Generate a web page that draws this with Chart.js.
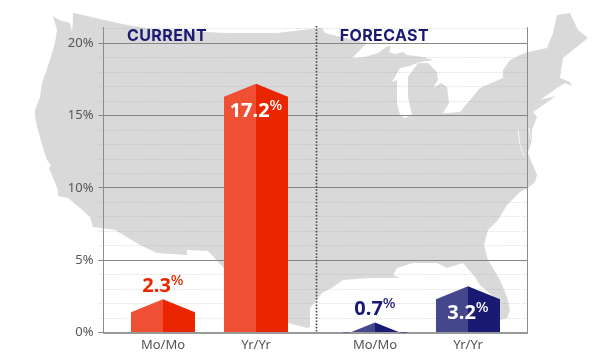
<!DOCTYPE html>
<html>
<head>
<meta charset="utf-8">
<style>
  html, body { margin: 0; padding: 0; background: #fff; }
  #wrap { position: relative; width: 610px; height: 361px; overflow: hidden; }
  #map, #chart { position: absolute; left: 0; top: 0; }
</style>
<script src="https://cdn.jsdelivr.net/npm/chart.js@4"></script>
</head>
<body>
<div id="wrap">
  <svg id="map" width="610" height="361" viewBox="0 0 610 361">
    <path fill="#d9d9d9" d="M73 12.7 L100 19 L127 25 L160 30 L227 33 L277 33 L320 28 L322 28 L325 33 L337 36 L367 43 L363 47 L352 58 L365 57 L378 53 L386 47 L391 46 L389 52 L395 54 L403 52 L407 55 L423 57 L433 60 L420 62 L410 66 L400 68 L392 82 L397 80 L397 103 L400 115 L405 118 L412 115 L408 97 L408 77 L418 63 L428 63 L437 72 L438 80 L433 88 L441 83 L447 87 L449 103 L443 113 L447 113 L460 112 L480 88 L503 78 L503 70 L510 60 L520 55 L528 52 L547 48 L553 33 L557 15 L570 13 L578 30 L588 38 L573 50 L563 58 L560 78 L570 82 L572 86 L565 83 L557 88 L540 100 L556 96 L536 110 L533 112 L537 117 L532 130 L532 140 L528 153 L532 163 L537 175 L535 182 L528 188 L520 192 L507 205 L498 220 L488 230 L484 245 L488 260 L500 280 L507 297 L510 310 L507 318 L500 320 L497 300 L480 285 L475 277 L463 263 L447 268 L437 263 L413 263 L397 268 L393 275 L400 278 L370 278 L343 280 L333 287 L322 293 L310 308 L310 327 L307 328 L288 323 L270 300 L240 285 L223 267 L208 251 L187 250 L187 255 L157 253 L140 245 L115 230 L93 227 L90 217 L80 208 L68 198 L58 196 L58 190 L49 168 L51 165 L47 160 L43 148 L37 127 L35 115 L35 110 L40 97 L42 83 L50 60 L55 43 L57 30 L53 16 L59 20 L70 23 L72 32 L73 20 Z"/>
    <path fill="none" stroke="#fff" stroke-width="0.8" d="M518 130 L520 145 L524 156 M529 128 L531 140"/>
  </svg>
  <canvas id="chart" width="610" height="361"></canvas>
</div>
<script>
const categories = ['Mo/Mo', 'Yr/Yr', 'Mo/Mo', 'Yr/Yr'];
const slots = [0, 1, 2.28, 3.28];
const values = [2.3, 17.2, 0.7, 3.2];
const labelInside = [false, true, false, true];
const lightColors = ['#ef5033', '#ef5033', '#45478d', '#45478d'];
const darkColors = ['#ea2600', '#ea2600', '#1a1a72', '#1a1a72'];
const sections = ['CURRENT', 'FORECAST'];
const sectionX = [-0.387, 1.9];
const dividerSlot = 1.64;

const font = '"Noto Sans", sans-serif';
const titleFont = 'Inter, sans-serif';

// draws the bars as two-tone "house" shapes, the rest of the bar element is not used
const houseBars = {
    id: 'houseBars',
    beforeDatasetDraw(chart, args) {
        const ctx = chart.ctx;
        const area = chart.chartArea;
        ctx.save();
        ctx.beginPath();
        ctx.rect(area.left, 0, area.right - area.left, area.bottom);
        ctx.clip();
        args.meta.data.forEach((bar, i) => {
            const { x, y, base, width } = bar.getProps(['x', 'y', 'base', 'width']);
            const half = width / 2;
            ctx.fillStyle = lightColors[i];
            ctx.beginPath();
            ctx.moveTo(x, y);
            ctx.lineTo(x - half, y + 13);
            ctx.lineTo(x - half, base);
            ctx.lineTo(x, base);
            ctx.fill();
            ctx.fillStyle = darkColors[i];
            ctx.beginPath();
            ctx.moveTo(x, y);
            ctx.lineTo(x + half, y + 13);
            ctx.lineTo(x + half, base);
            ctx.lineTo(x, base);
            ctx.fill();
        });
        ctx.restore();
        return false;
    },
    afterDatasetsDraw(chart) {
        const ctx = chart.ctx;
        const area = chart.chartArea;
        const xScale = chart.scales.x;

        // right axis line
        ctx.save();
        ctx.strokeStyle = '#8c8c8c';
        ctx.lineWidth = 1;
        ctx.beginPath();
        ctx.moveTo(area.right, area.top);
        ctx.lineTo(area.right, area.bottom);
        ctx.stroke();

        // dotted divider
        const dx = Math.round(xScale.getPixelForValue(dividerSlot)) + 0.5;
        ctx.strokeStyle = '#444';
        ctx.lineWidth = 1.6;
        ctx.setLineDash([1.6, 1.6]);
        ctx.beginPath();
        ctx.moveTo(dx, area.top - 1);
        ctx.lineTo(dx, area.bottom);
        ctx.stroke();
        ctx.setLineDash([]);

        // section titles
        ctx.fillStyle = '#1a1a72';
        ctx.font = '700 16px ' + titleFont;
        ctx.letterSpacing = '0.4px';
        ctx.textAlign = 'left';
        ctx.textBaseline = 'alphabetic';
        sections.forEach((s, i) => ctx.fillText(s, xScale.getPixelForValue(sectionX[i]), 41));
        ctx.letterSpacing = '0px';

        // value labels with small superscript %
        chart.getDatasetMeta(0).data.forEach((bar, i) => {
            const txt = values[i].toFixed(1);
            ctx.font = '700 20px ' + font;
            const w = ctx.measureText(txt).width;
            ctx.font = '500 15px ' + font;
            const pw = ctx.measureText('%').width;
            const left = bar.x - (w + pw) / 2;
            const baseY = labelInside[i] ? bar.y + 33 : bar.y - 7;
            ctx.fillStyle = labelInside[i] ? '#fff' : darkColors[i];
            ctx.font = '700 20px ' + font;
            ctx.fillText(txt, left, baseY);
            ctx.font = '500 15px ' + font;
            ctx.fillText('%', left + w, baseY - 7);
        });
        ctx.restore();
    }
};

new Chart(document.getElementById('chart').getContext('2d'), {
    type: 'bar',
    data: {
        datasets: [{
            data: values.map((v, i) => ({ x: slots[i], y: v })),
            barThickness: 64,
            backgroundColor: lightColors
        }]
    },
    plugins: [houseBars],
    options: {
        responsive: false,
        animation: false,
        layout: { padding: { top: 27, right: 82.5, left: 0, bottom: 0 } },
        plugins: { legend: { display: false }, tooltip: { enabled: false } },
        scales: {
            x: {
                type: 'linear',
                offset: false,
                min: -0.64,
                max: 3.92,
                afterFit: s => { s.height = 28.5; },
                afterBuildTicks: s => { s.ticks = slots.map(v => ({ value: v })); },
                grid: { display: false, offset: false, drawTicks: false },
                border: { color: '#999', width: 2 },
                ticks: {
                    callback: (v, i) => categories[i],
                    autoSkip: false,
                    maxRotation: 0,
                    padding: 5,
                    color: '#555',
                    font: { family: font, size: 13 }
                }
            },
            y: {
                min: 0,
                max: 21.13,
                afterFit: s => { s.width = 103.5; },
                border: { color: '#8c8c8c', width: 1, dash: c => (c.tick && c.tick.value % 5 === 0) ? [] : [1, 1.5] },
                grid: {
                    color: c => c.tick.value % 5 === 0 ? '#858585' : 'rgba(150,150,150,0.38)',
                    tickLength: 5,
                    tickBorderDash: c => c.tick.value % 5 === 0 ? [] : [1, 1.5]
                },
                ticks: {
                    stepSize: 1,
                    includeBounds: false,
                    autoSkip: false,
                    padding: 5,
                    color: '#555',
                    font: { family: font, size: 13 },
                    callback: v => v % 5 === 0 ? v + '%' : ''
                }
            }
        }
    }
});
</script>
</body>
</html>
